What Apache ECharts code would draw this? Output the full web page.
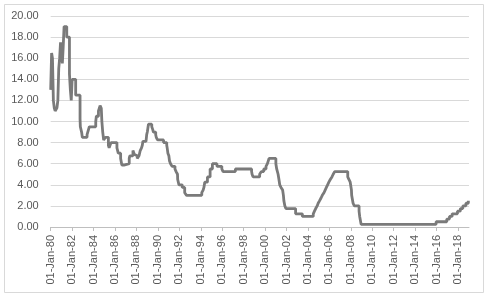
<!DOCTYPE html>
<html>
<head>
<meta charset="utf-8">
<script src="https://cdn.jsdelivr.net/npm/echarts@6/dist/echarts.min.js"></script>
<style>
html,body{margin:0;padding:0;background:#fff;}
#chart{width:484px;height:294px;}
</style>
</head>
<body>
<div id="chart"></div>
<script>
// Rate change dates and the rate (%) in force from that date
const rateDates = [
  '1980-01-01','1980-02-01','1980-03-01','1980-04-01','1980-05-01','1980-06-01','1980-08-01','1980-09-01',
  '1980-10-01','1980-11-01','1980-12-01','1981-02-01','1981-03-01','1981-04-01','1981-07-01','1981-10-01',
  '1981-11-01','1981-12-01','1982-01-01','1982-05-01','1982-09-27','1982-10-07','1982-11-19','1982-12-14',
  '1983-05-24','1983-07-14','1983-08-10','1984-03-15','1984-04-05','1984-06-15','1984-07-15','1984-08-10',
  '1984-09-20','1984-10-10','1984-11-08','1984-12-10','1985-02-10','1985-05-20','1985-06-15','1985-07-15',
  '1985-08-20','1986-03-07','1986-04-21','1986-07-11','1986-08-21','1986-11-01','1987-04-30','1987-05-20',
  '1987-09-04','1987-10-22','1987-11-04','1988-01-28','1988-03-29','1988-05-09','1988-06-22','1988-07-19',
  '1988-08-09','1988-11-22','1988-12-15','1989-01-05','1989-02-14','1989-06-06','1989-07-07','1989-08-01',
  '1989-10-18','1989-11-06','1989-12-20','1990-07-13','1990-10-29','1990-11-13','1990-12-07','1991-01-09',
  '1991-02-01','1991-03-08','1991-04-30','1991-08-06','1991-09-13','1991-10-31','1991-11-06','1991-12-20',
  '1992-04-09','1992-07-02','1992-09-04','1994-02-04','1994-03-22','1994-04-18','1994-05-17','1994-08-16',
  '1994-11-15','1995-02-01','1995-07-06','1995-12-19','1996-01-31','1997-03-25','1998-09-29','1998-10-15',
  '1998-11-17','1999-06-30','1999-08-24','1999-11-16','2000-02-02','2000-03-21','2000-05-16','2001-01-03',
  '2001-01-31','2001-03-20','2001-04-18','2001-05-15','2001-06-27','2001-08-21','2001-09-17','2001-10-02',
  '2001-11-06','2001-12-11','2002-11-06','2003-06-25','2004-06-30','2004-08-10','2004-09-21','2004-11-10',
  '2004-12-14','2005-02-02','2005-03-22','2005-05-03','2005-06-30','2005-08-09','2005-09-20','2005-11-01',
  '2005-12-13','2006-01-31','2006-03-28','2006-05-10','2006-06-29','2007-09-18','2007-10-31','2007-12-11',
  '2008-01-22','2008-01-30','2008-03-18','2008-04-30','2008-10-08','2008-10-29','2008-12-16','2015-12-16',
  '2016-12-14','2017-03-15','2017-06-14','2017-12-13','2018-03-21','2018-06-13','2018-09-26','2018-12-19',
  '2019-01-10'
];
const rateValues = [
  13.0,16.5,16.0,12.0,11.3,11.0,11.3,12.0,
  15.0,16.0,17.5,15.5,17.0,19.0,18.0,14.5,
  13.0,12.0,14.0,12.5,10.25,9.5,9.0,8.5,
  8.75,9.25,9.5,10.0,10.5,11.0,11.25,11.5,
  11.25,10.0,9.0,8.25,8.5,7.75,7.5,7.75,
  8.0,7.5,7.0,6.5,5.875,6.0,6.5,6.75,
  7.25,6.875,6.75,6.5,6.75,7.25,7.5,7.75,
  8.125,8.25,8.75,9.0,9.75,9.5,9.25,9.0,
  8.75,8.5,8.25,8.0,7.75,7.5,7.0,6.75,
  6.25,6.0,5.75,5.5,5.25,5.0,4.5,4.0,
  3.75,3.25,3.0,3.25,3.5,3.75,4.25,4.75,
  5.5,6.0,5.75,5.5,5.25,5.5,5.25,5.0,
  4.75,5.0,5.25,5.5,5.75,6.0,6.5,6.0,
  5.5,5.0,4.5,4.0,3.75,3.5,3.0,2.5,
  2.0,1.75,1.25,1.0,1.25,1.5,1.75,2.0,
  2.25,2.5,2.75,3.0,3.25,3.5,3.75,4.0,
  4.25,4.5,4.75,5.0,5.25,4.75,4.5,4.25,
  3.5,3.0,2.25,2.0,1.5,1.0,0.25,0.5,
  0.75,1.0,1.25,1.5,1.75,2.0,2.25,2.5,
  2.5
];
// x-axis tick label years (labels read 01-Jan-YY)
const tickYears = [1980,1982,1984,1986,1988,1990,1992,1994,1996,1998,2000,2002,2004,2006,2008,2010,2012,2014,2016,2018];
const yTicks = [0,2,4,6,8,10,12,14,16,18,20];

const tickValues = tickYears.map(y => Date.UTC(y, 0, 1));
const seriesData = rateDates.map((d, i) => [Date.parse(d + 'T00:00:00Z'), rateValues[i]]);

const chart = echarts.init(document.getElementById('chart'), null, {renderer: 'canvas'});
const FONT = 'Liberation Sans';
chart.setOption({
  animation: false,
  backgroundColor: '#ffffff',
  graphic: [{
    type: 'rect', left: 2, top: 2, silent: true,
    shape: {width: 479, height: 288},
    style: {fill: 'none', stroke: '#d9d9d9', lineWidth: 1}
  }],
  grid: {left: 50.7, right: 15, top: 16, bottom: 67, containLabel: false},
  xAxis: {
    type: 'value',
    min: Date.UTC(1980, 0, 1),
    max: Date.UTC(2019, 0, 10),
    axisLine: {show: true, onZero: false, lineStyle: {color: '#bfbfbf', width: 1}},
    axisTick: {show: true, customValues: tickValues, length: 4, lineStyle: {color: '#bfbfbf'}},
    axisLabel: {
      customValues: tickValues,
      rotate: 90,
      margin: 8,
      color: '#595959',
      fontFamily: FONT,
      fontSize: 11,
      formatter: function (v) {
        const d = new Date(v);
        return '01-Jan-' + String(d.getUTCFullYear()).slice(2);
      }
    },
    splitLine: {show: false}
  },
  yAxis: {
    type: 'value',
    min: yTicks[0],
    max: yTicks[yTicks.length - 1],
    interval: 2,
    axisLine: {show: false},
    axisTick: {show: false},
    axisLabel: {
      color: '#595959', fontFamily: FONT, fontSize: 11, margin: 12,
      formatter: v => v.toFixed(2)
    },
    splitLine: {show: true, lineStyle: {color: '#d9d9d9', width: 1}}
  },
  series: [{
    type: 'line',
    step: 'end',
    data: seriesData,
    showSymbol: false,
    symbol: 'none',
    lineStyle: {color: '#7a7a7a', width: 2.8},
    z: 3
  }]
});
</script>
</body>
</html>
